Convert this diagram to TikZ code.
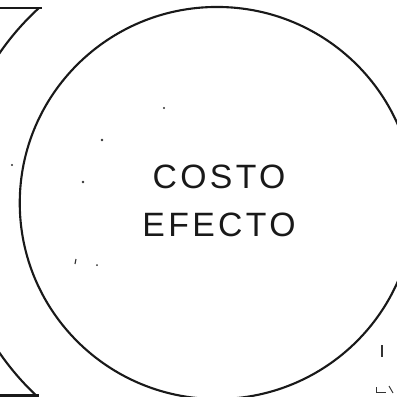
\documentclass[tikz,border=0pt]{standalone}
\usepackage{fontspec}
\setmainfont{Liberation Sans}
\newfontfamily\labelfont[LetterSpace=10]{Liberation Sans}
\tikzset{
  ring/.style={draw=black!90, line width=1.5pt},
  frameline/.style={draw=black!90, line width=1.6pt},
  speck/.style={fill=black!80, draw=none},
  lbl/.style={font=\labelfont\fontsize{24}{34}\selectfont, text=black!90, align=center, inner sep=0pt}
}
\begin{document}
\begin{tikzpicture}[x=0.025cm, y=-0.025cm]
\useasboundingbox (0,0) rectangle (397,397);
% main circle
\coordinate (c) at (217,203);
\draw[ring] (c) ellipse [x radius=4.93cm, y radius=4.9cm];
% outer concentric circle, partly visible on the left
\begin{scope}
  \clip (0,8) rectangle (100,395);
  \draw[ring] (c) circle [radius=6.6cm];
\end{scope}
% frame edges
\draw[frameline] (0,8) -- (42,8);
\draw[frameline] (0,395.5) -- (39,395.5);
% label
\node[lbl] (t) at (219,201) {COSTO\\EFECTO};
% specks
\fill[speck] (164,108) circle [radius=0.03cm];
\fill[speck] (102,140) circle [radius=0.035cm];
\fill[speck] (83,182) circle [radius=0.035cm];
\fill[speck] (12,165) circle [radius=0.03cm];
\fill[speck] (97,265) circle [radius=0.025cm];
\draw[black!80, line width=0.8pt] (76,259) -- (75,264);
% marks at lower right
\draw[black!80, line width=0.8pt] (382,345) -- (382,357);
\draw[black!80, line width=0.7pt] (376,387) -- (376,392) -- (386,392);
\draw[black!80, line width=0.7pt] (389,386) -- (393,393);
\end{tikzpicture}
\end{document}
